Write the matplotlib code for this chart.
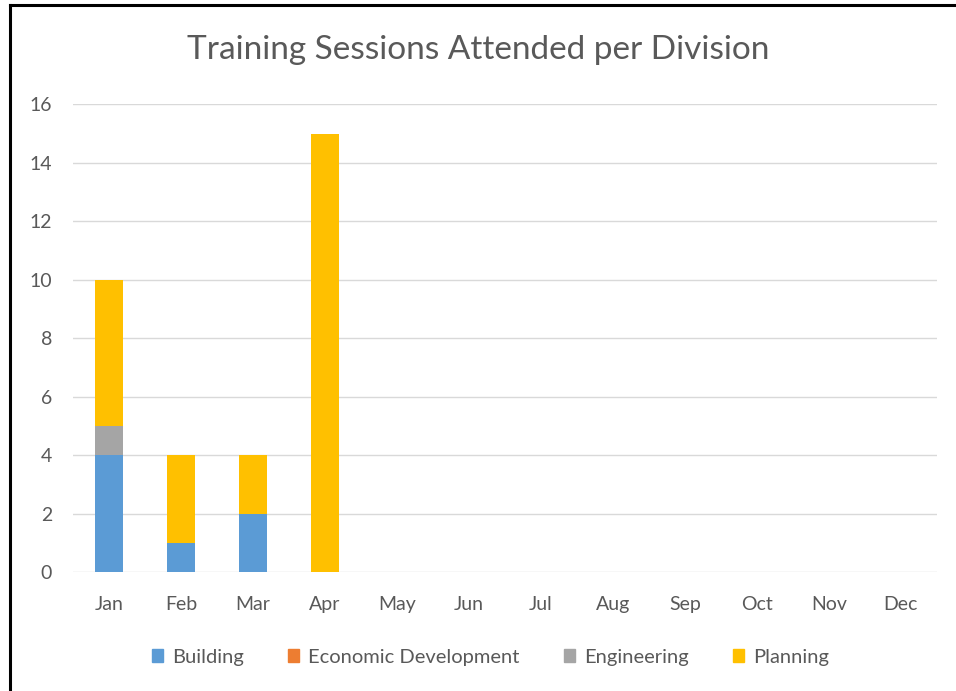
import numpy as np
import matplotlib.pyplot as plt
from matplotlib.lines import Line2D

months = ["Jan", "Feb", "Mar", "Apr", "May", "Jun", "Jul", "Aug", "Sep", "Oct", "Nov", "Dec"]
building = [4, 1, 2, 0, 0, 0, 0, 0, 0, 0, 0, 0]
economic = [0, 0, 0, 0, 0, 0, 0, 0, 0, 0, 0, 0]
engineering = [1, 0, 0, 0, 0, 0, 0, 0, 0, 0, 0, 0]
planning = [5, 3, 2, 15, 0, 0, 0, 0, 0, 0, 0, 0]

series = [("Building", building, "#5B9BD5"),
          ("Economic Development", economic, "#ED7D31"),
          ("Engineering", engineering, "#A5A5A5"),
          ("Planning", planning, "#FFC000")]

plt.rcParams['font.family'] = ['Lato', 'DejaVu Sans']
text_col = "#595959"

fig = plt.figure(figsize=(9.56, 6.91), dpi=100)
ax = fig.add_axes([0.0764, 0.172, 0.9036, 0.677])

x = np.arange(len(months))
bottom = np.zeros(len(months))
for name, vals, col in series:
    ax.bar(x, vals, 0.39, bottom=bottom, color=col, label=name, zorder=3)
    bottom += np.array(vals)

ax.set_xlim(-0.5, 11.5)
ax.set_ylim(0, 16)
ax.set_yticks(range(0, 17, 2))
ax.set_xticks(x)
ax.set_xticklabels(months)
ax.grid(axis='y', color="#D9D9D9", linewidth=1, zorder=0)
for s in ax.spines.values():
    s.set_visible(False)
ax.tick_params(length=0, labelsize=14, labelcolor=text_col)
ax.tick_params(axis='x', pad=17)
ax.tick_params(axis='y', pad=15)

fig.text(0.5, 0.927, "Training Sessions Attended per Division", ha='center', va='center',
         fontsize=24, color=text_col)

handles = [plt.Rectangle((0, 0), 1, 1, color=c) for _, _, c in series]
fig.legend(handles, [n for n, _, _ in series], loc='center', bbox_to_anchor=(0.513, 0.049),
           ncol=4, frameon=False, fontsize=14.5, labelcolor=text_col,
           handlelength=0.55, handleheight=0.55, handletextpad=0.45, columnspacing=2.2)

# black frame edges (top and left) from the screenshot
fig.add_artist(Line2D([0.0105, 1.0], [0.9925, 0.9925], color='black', linewidth=2.2, transform=fig.transFigure))
fig.add_artist(Line2D([0.0105, 0.0105], [0.0, 0.9925], color='black', linewidth=2.2, transform=fig.transFigure))

fig.savefig("out.png", dpi=100)
